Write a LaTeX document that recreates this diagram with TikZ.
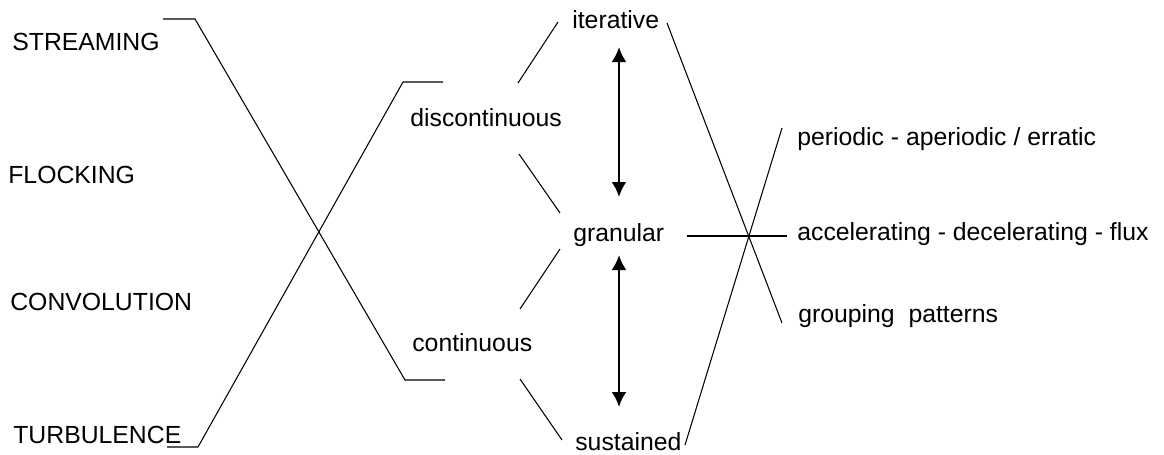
\documentclass[tikz,border=0pt]{standalone}
\usepackage{fontspec}
\setmainfont{Liberation Sans}
\usepackage{tikz}
\usetikzlibrary{arrows.meta,positioning,calc}

\tikzset{
  lbl/.style={anchor=base west, inner sep=0pt, font=\fontsize{14.1}{16}\selectfont},
  link/.style={line width=0.6pt},
  swing/.style={line width=1.4pt, {Latex[length=3mm,width=3mm]}-{Latex[length=3mm,width=3mm]}}
}

\begin{document}
\begin{tikzpicture}
    \useasboundingbox (0,0) rectangle (23.28,9.08);

    % Left column
    \node[lbl] (streaming) at (0.24,8.08) {STREAMING};
    \node[lbl] (flocking) at (0.16,5.42) {FLOCKING};
    \node[lbl] (convolution) at (0.20,2.88) {CONVOLUTION};
    \node[lbl] (turbulence) at (0.26,0.22) {TURBULENCE};

    % Middle column
    \node[lbl] (discont) at (8.20,6.56) {discontinuous};
    \node[lbl] (cont) at (8.24,2.06) {continuous};

    % Third column
    \node[lbl] (iterative) at (11.44,8.52) {iterative};
    \node[lbl] (granular) at (11.46,4.26) {granular};
    \node[lbl] (sustained) at (11.50,0.08) {sustained};

    % Right column
    \node[lbl] (periodic) at (15.94,6.18) {periodic - aperiodic / erratic};
    \node[lbl] (accel) at (15.94,4.28) {accelerating - decelerating - flux};
    \node[lbl] (grouping) at (15.96,2.64) {grouping\ \ patterns};

    % Crossing brackets on the left
    \coordinate (s0) at (3.26,8.70);
    \coordinate (s1) at (3.90,8.70);
    \coordinate (s2) at (8.10,1.48);
    \coordinate (s3) at (8.90,1.48);
    \draw[link] (s0) -- (s1) -- (s2) -- (s3);
    \coordinate (t0) at (3.34,0.14);
    \coordinate (t1) at (3.96,0.14);
    \coordinate (t2) at (8.06,7.44);
    \coordinate (t3) at (8.86,7.44);
    \draw[link] (t0) -- (t1) -- (t2) -- (t3);

    % Short links to the third column
    \coordinate (du0) at (10.36,7.42);
    \coordinate (du1) at (11.16,8.64);
    \coordinate (dd0) at (10.38,6.00);
    \coordinate (dd1) at (11.20,4.82);
    \coordinate (cu0) at (10.40,2.90);
    \coordinate (cu1) at (11.20,4.10);
    \coordinate (cd0) at (10.40,1.50);
    \coordinate (cd1) at (11.24,0.28);
    \draw[link] (du0) -- (du1);
    \draw[link] (dd0) -- (dd1);
    \draw[link] (cu0) -- (cu1);
    \draw[link] (cd0) -- (cd1);

    % Double arrows
    \coordinate (a0) at (12.38,8.14);
    \coordinate (a1) at (12.38,5.14);
    \coordinate (b0) at (12.38,3.98);
    \coordinate (b1) at (12.38,0.94);
    \draw[swing] (a0) -- (a1);
    \draw[swing] (b0) -- (b1);

    % Star on the right
    \coordinate (i0) at (13.34,8.62);
    \coordinate (i1) at (15.64,2.62);
    \coordinate (u0) at (13.70,0.18);
    \coordinate (u1) at (15.64,6.52);
    \coordinate (g0) at (13.74,4.36);
    \coordinate (g1) at (15.74,4.36);
    \draw[link] (i0) -- (i1);
    \draw[link] (u0) -- (u1);
    \draw[link] (g0) -- (g1);
\end{tikzpicture}
\end{document}
